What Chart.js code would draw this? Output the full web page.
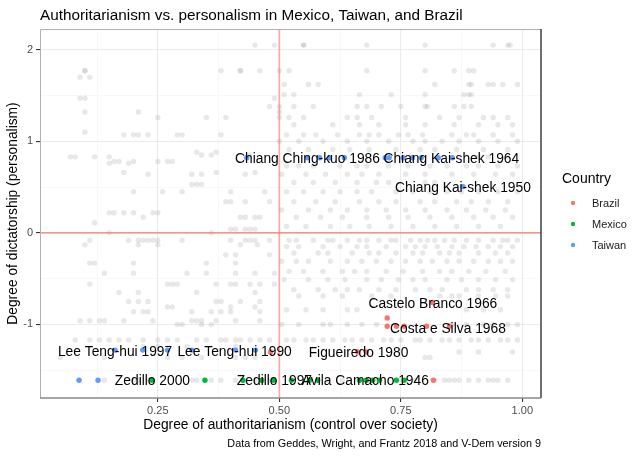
<!DOCTYPE html>
<html lang="en">
<head>
<meta charset="UTF-8">
<title>Authoritarianism vs. personalism</title>
<script src="https://cdn.jsdelivr.net/npm/chart.js@4.4.1/dist/chart.umd.min.js"></script>
<style>
  html, body { margin: 0; padding: 0; background: #fff; }
</style>
</head>
<body>
<canvas id="myChart" width="640" height="457"></canvas>
<script>
// ---- data ----
const countries = ["Brazil", "Mexico", "Taiwan"];

const brazilX = [0.722, 0.722, 0.741, 0.757, 0.803, 0.850, 0.815, 0.661, 0.679, 0.482, 0.817];
const brazilY = [-0.93, -1.02, -1.02, -1.02, -1.02, -1.02, -0.76, -1.30, -1.30, -1.30, -1.61];

const mexicoX = [0.238, 0.347, 0.425, 0.464, 0.488, 0.525, 0.562, 0.579, 0.665, 0.679, 0.692, 0.706, 0.741, 0.757];
const mexicoY = [-1.61, -1.61, -1.61, -1.61, -1.61, -1.61, -1.61, -1.61, -1.61, -1.61, -1.61, -1.61, -1.61, -1.61];

const taiwanX = [0.433, 0.558, 0.583, 0.603, 0.634, 0.718, 0.726, 0.755, 0.774, 0.792, 0.827, 0.856,
                 0.878, 0.162, 0.219, 0.270, 0.320, 0.410, 0.451, 0.088, 0.127];
const taiwanY = [0.82, 0.82, 0.82, 0.82, 0.82, 0.82, 0.82, 0.82, 0.82, 0.82, 0.82, 0.82,
                 0.505, -1.28, -1.28, -1.28, -1.28, -1.28, -1.28, -1.61, -1.61];

// all other dictatorships, grouped by rows of similar personalism score
const greyRowY = [2.05, 1.77, 1.70, 1.62, 1.51, 1.47, 1.38, 1.32, 1.26, 1.18, 1.10, 1.07, 1.00, 0.91, 0.88, 0.85,
  0.83, 0.78, 0.76, 0.73, 0.66, 0.64, 0.55, 0.53, 0.45, 0.34, 0.25, 0.22, 0.17, 0.11, 0.07, 0.04, 0.00,
  -0.08, -0.13, -0.15, -0.22, -0.24, -0.31, -0.33, -0.42, -0.44, -0.51, -0.56, -0.62, -0.65, -0.69, -0.75,
  -0.81, -0.84, -0.86, -0.96, -1.00, -1.17, -1.24, -1.30, -1.36, -1.61];
const greyRowX = [
  [0.45, 0.49, 0.55, 0.55, 0.68, 0.80, 0.94, 0.97, 0.975],
  [0.10, 0.10, 0.38, 0.42, 0.42, 0.46, 0.50, 0.52, 0.68, 0.80, 0.86, 0.89, 0.90],
  [0.09, 0.11],
  [0.51, 0.56, 0.58, 0.82, 0.89, 0.895, 0.93, 0.94, 0.96, 0.99],
  [0.51, 0.53, 0.665, 0.73, 0.80, 0.88, 0.89, 0.895],
  [0.09, 0.10, 0.49],
  [0.48, 0.50, 0.53, 0.57, 0.66, 0.68, 0.71, 0.75, 0.80, 0.805, 0.86, 0.88, 0.895],
  [0.10, 0.21, 0.50],
  [0.25, 0.35, 0.39, 0.50, 0.52, 0.55, 0.64, 0.66, 0.69, 0.76, 0.83, 0.87, 0.92, 0.94, 0.97],
  [0.53, 0.61, 0.665, 0.705, 0.76, 0.80, 0.86, 0.91, 0.95, 0.98],
  [0.10],
  [0.18, 0.20, 0.21, 0.23, 0.29, 0.30, 0.38, 0.515, 0.55, 0.575, 0.62, 0.665, 0.685, 0.705, 0.745, 0.765, 0.795, 0.855, 0.885, 0.90, 0.94, 0.98],
  [0.50, 0.54, 0.59, 0.64, 0.68, 0.725, 0.775, 0.80, 0.835, 0.87, 0.91, 0.95, 0.99],
  [0.52, 0.56, 0.61, 0.645, 0.685, 0.74, 0.79, 0.82, 0.865, 0.92, 0.97],
  [0.33, 0.37],
  [0.34, 0.36, 0.44],
  [0.07, 0.08, 0.12, 0.15, 0.91, 0.93, 0.97],
  [0.16, 0.17, 0.20, 0.25, 0.27, 0.28],
  [0.15, 0.19],
  [0.515, 0.54, 0.57, 0.625, 0.66, 0.68, 0.725, 0.765, 0.81, 0.845, 0.885, 0.91, 0.95, 0.99],
  [0.18, 0.37, 0.45],
  [0.23, 0.32, 0.34, 0.43, 0.505, 0.555, 0.595, 0.64, 0.67, 0.705, 0.76, 0.80, 0.855, 0.90, 0.945, 0.98],
  [0.53, 0.57, 0.615, 0.66, 0.70, 0.725, 0.80, 0.82],
  [0.32, 0.33, 0.34],
  [0.20, 0.26, 0.30, 0.40, 0.47, 0.515, 0.55, 0.59, 0.625, 0.66, 0.69, 0.74, 0.775, 0.81, 0.845, 0.875, 0.91, 0.95, 0.99],
  [0.39, 0.40, 0.43, 0.48, 0.53, 0.575, 0.615, 0.665, 0.705, 0.74, 0.79, 0.82, 0.865, 0.895, 0.93, 0.97],
  [0.505, 0.56, 0.605, 0.64, 0.68, 0.72, 0.76, 0.80, 0.845, 0.885, 0.925, 0.965],
  [0.15, 0.16, 0.18, 0.20, 0.24, 0.25],
  [0.22, 0.42, 0.43, 0.45, 0.46, 0.535, 0.585, 0.63, 0.68, 0.725, 0.765, 0.81, 0.855, 0.90, 0.94, 0.98],
  [0.12],
  [0.515, 0.555, 0.605, 0.645, 0.685, 0.73, 0.775, 0.82, 0.865, 0.91, 0.955],
  [0.40, 0.41, 0.43, 0.44, 0.45],
  [0.15, 0.36],
  [0.11, 0.19, 0.21, 0.22, 0.23, 0.24, 0.25, 0.30, 0.40, 0.43, 0.44, 0.45, 0.48, 0.52, 0.535, 0.57, 0.60, 0.61, 0.64, 0.665, 0.68, 0.705, 0.73, 0.74, 0.77, 0.79, 0.805, 0.82, 0.84, 0.86, 0.885, 0.91, 0.94, 0.96, 0.97, 0.99],
  [0.10, 0.21, 0.25, 0.42, 0.455],
  [0.515, 0.54, 0.59, 0.625, 0.66, 0.68, 0.72, 0.76, 0.78, 0.80, 0.825, 0.855, 0.88, 0.905, 0.93, 0.955, 0.98],
  [0.53, 0.58, 0.60, 0.65, 0.685, 0.705, 0.74, 0.775, 0.795, 0.83, 0.85, 0.87, 0.91, 0.945, 0.97],
  [0.39, 0.41, 0.48],
  [0.505, 0.535, 0.56, 0.605, 0.64, 0.67, 0.70, 0.73, 0.76, 0.79, 0.815, 0.845, 0.87, 0.90, 0.93, 0.955, 0.98],
  [0.11, 0.12, 0.20, 0.35, 0.41],
  [0.52, 0.55, 0.59, 0.63, 0.655, 0.68, 0.72, 0.755, 0.795, 0.83, 0.855, 0.89, 0.925, 0.965],
  [0.14, 0.20, 0.31, 0.35, 0.41, 0.45, 0.49],
  [0.51, 0.56, 0.60, 0.635, 0.68, 0.71, 0.745, 0.775, 0.80, 0.845, 0.875, 0.91, 0.945, 0.98],
  [0.11, 0.27, 0.28, 0.29, 0.37, 0.40, 0.41, 0.44, 0.46, 0.49],
  [0.53, 0.58, 0.615, 0.64, 0.665, 0.705, 0.74, 0.78, 0.81, 0.835, 0.885, 0.91, 0.94, 0.97],
  [0.17, 0.21, 0.33, 0.45],
  [0.54, 0.59, 0.63, 0.69, 0.73, 0.83, 0.855, 0.87, 0.91, 0.945, 0.97],
  [0.19, 0.21, 0.23, 0.37, 0.38, 0.42, 0.46],
  [0.27, 0.28, 0.40, 0.45],
  [0.515, 0.555, 0.59, 0.64, 0.66, 0.885, 0.92, 0.955],
  [0.20, 0.22, 0.23, 0.32, 0.36, 0.38, 0.40, 0.46],
  [0.09, 0.11, 0.13, 0.14, 0.18, 0.24, 0.32, 0.33, 0.34, 0.37, 0.41, 0.46],
  [0.29, 0.30, 0.34, 0.36, 0.505, 0.54, 0.59, 0.605, 0.64, 0.67, 0.70, 0.855, 0.885, 0.92, 0.94, 0.97, 0.99],
  [0.08, 0.11, 0.13, 0.15, 0.17, 0.19, 0.22, 0.25, 0.27, 0.29, 0.33, 0.35, 0.38, 0.39, 0.41, 0.42, 0.44, 0.46, 0.48,
   0.515, 0.53, 0.555, 0.57, 0.59, 0.61, 0.635, 0.65, 0.67, 0.69, 0.715, 0.73, 0.75, 0.78, 0.79, 0.81, 0.835, 0.85, 0.87, 0.895, 0.91, 0.93, 0.955, 0.97, 0.99],
  [0.22, 0.25, 0.31, 0.41],
  [0.87, 0.91, 0.98],
  [0.05, 0.14, 0.27, 0.30, 0.34, 0.41, 0.43, 0.45, 0.80, 0.81],
  [0.14, 0.20, 0.21, 0.23, 0.32, 0.33, 0.36, 0.38, 0.41, 0.43, 0.45, 0.48, 0.60, 0.63, 0.70, 0.78, 0.82, 0.84, 0.85, 0.86, 0.87, 0.89, 0.91, 0.93, 0.94, 0.95, 0.97]
];

const labelText = ["Chiang Ching-kuo 1986", "Chiang Kai-shek 1964", "Chiang Kai-shek 1950",
  "Castelo Branco 1966", "Costa e Silva 1968", "Figueiredo 1980",
  "Lee Teng-hui 1997", "Lee Teng-hui 1990", "Zedillo 2000", "Zedillo 1997", "Avila Camacho 1946"];
const labelX = [0.558, 0.854, 0.878, 0.816, 0.847, 0.663, 0.162, 0.408, 0.239, 0.490, 0.677];
const labelY = [0.82, 0.82, 0.505, -0.77, -1.035, -1.30, -1.285, -1.285, -1.61, -1.61, -1.61];

const xMajor = [0.25, 0.50, 0.75, 1.00];
const xMinor = [0.125, 0.375, 0.625, 0.875];
const yMajor = [-1, 0, 1, 2];
const yMinor = [-1.5, -0.5, 0.5, 1.5];

const titleText = "Authoritarianism vs. personalism in Mexico, Taiwan, and Brazil";
const captionText = "Data from Geddes, Wright, and Frantz 2018 and V-Dem version 9";

// ---- styles ----
const countryColors = ["#F8766D", "#00BA38", "#619CFF"];
const FONT = "'Liberation Sans', Arial, sans-serif";

function pts(xs, ys) { return xs.map((x, i) => ({ x: x, y: ys[i] })); }

const greyPoints = [];
greyRowY.forEach((y, r) => greyRowX[r].forEach(x => greyPoints.push({ x: x, y: y })));

const isMajorX = v => xMajor.some(m => Math.abs(m - v) < 1e-6);
const isMajorY = v => yMajor.some(m => Math.abs(m - v) < 1e-6);

const decor = {
  id: "decor",
  beforeDraw(chart) {
    const c = chart.ctx;
    c.save();
    c.fillStyle = "#fff";
    c.fillRect(0, 0, chart.width, chart.height);
    c.restore();
  },
  afterDatasetDraw(chart, args) {
    // reference lines go on top of the grey cloud, under the country points
    if (chart.data.datasets[args.index].label !== "Other") return;
    const c = chart.ctx, a = chart.chartArea;
    const xs = chart.scales.x, ys = chart.scales.y;
    c.save();
    c.strokeStyle = "rgba(248,118,109,0.55)";
    c.lineWidth = 1.8;
    const px = xs.getPixelForValue(0.5);
    c.beginPath(); c.moveTo(px, a.top); c.lineTo(px, a.bottom); c.stroke();
    c.strokeStyle = "#F8766D";
    c.lineWidth = 1.1;
    const py = ys.getPixelForValue(0);
    c.beginPath(); c.moveTo(a.left, py); c.lineTo(a.right, py); c.stroke();
    c.restore();
  },
  afterDatasetsDraw(chart) {
    const c = chart.ctx, a = chart.chartArea;
    const xs = chart.scales.x, ys = chart.scales.y;
    c.save();
    // text labels
    c.font = "13.8px " + FONT;
    c.fillStyle = "#000";
    c.textAlign = "center";
    c.textBaseline = "alphabetic";
    labelText.forEach((t, i) => {
      c.fillText(t, xs.getPixelForValue(labelX[i]), ys.getPixelForValue(labelY[i]) + 5);
    });
    // panel border
    c.lineWidth = 1;
    c.strokeStyle = "#b0b0b0";
    c.beginPath();
    c.moveTo(a.left + 0.5, a.bottom); c.lineTo(a.left + 0.5, a.top + 0.5); c.lineTo(a.right, a.top + 0.5);
    c.stroke();
    c.strokeStyle = "#333";
    c.lineWidth = 1.4;
    c.beginPath();
    c.moveTo(a.right, a.top); c.lineTo(a.right, a.bottom); c.stroke();
    c.strokeStyle = "#888";
    c.beginPath();
    c.moveTo(a.left, a.bottom); c.lineTo(a.right, a.bottom); c.stroke();
    c.restore();
  },
  afterDraw(chart) {
    const c = chart.ctx, a = chart.chartArea;
    c.save();
    c.fillStyle = "#000";
    c.textBaseline = "alphabetic";
    c.textAlign = "left";
    c.font = "15.3px " + FONT;
    c.fillText(titleText, a.left, 20);
    c.font = "10.8px " + FONT;
    c.textAlign = "right";
    c.fillText(captionText, a.right, 447);
    // legend
    c.textAlign = "left";
    c.font = "14px " + FONT;
    c.fillText("Country", 562, 183);
    c.font = "11px " + FONT;
    countries.forEach((name, i) => {
      const cy = 203 + i * 21;
      c.fillStyle = countryColors[i];
      c.beginPath(); c.arc(573, cy, 2.2, 0, Math.PI * 2); c.fill();
      c.fillStyle = "#1a1a1a";
      c.fillText(name, 592, cy + 4);
    });
    c.restore();
  }
};

const stx = document.getElementById("myChart");
new Chart(stx, {
  type: "scatter",
  data: {
    datasets: [
      { label: "Taiwan", data: pts(taiwanX, taiwanY), backgroundColor: countryColors[2], order: 1 },
      { label: "Mexico", data: pts(mexicoX, mexicoY), backgroundColor: countryColors[1], order: 2 },
      { label: "Brazil", data: pts(brazilX, brazilY), backgroundColor: countryColors[0], order: 3 },
      { label: "Other", data: greyPoints, backgroundColor: "rgba(128,128,128,0.18)", order: 10 }
    ]
  },
  options: {
    responsive: false,
    animation: false,
    events: [],
    elements: { point: { radius: 2.7, borderWidth: 0, hoverRadius: 2.7 } },
    layout: { padding: { left: 0, top: 29, right: 99, bottom: 24 } },
    plugins: { legend: { display: false }, tooltip: { enabled: false }, title: { display: false } },
    scales: {
      x: {
        type: "linear",
        min: 0.0076,
        max: 1.0385,
        afterBuildTicks: s => { s.ticks = xMinor.concat(xMajor).sort((p, q) => p - q).map(v => ({ value: v })); },
        afterFit: s => { s.height = 35; },
        border: { display: false },
        grid: {
          color: c => isMajorX(c.tick.value) ? "#ebebeb" : "#f5f5f5",
          lineWidth: c => isMajorX(c.tick.value) ? 1.1 : 0.7,
          tickColor: c => isMajorX(c.tick.value) ? "#333" : "rgba(0,0,0,0)",
          tickLength: 4,
          drawTicks: true
        },
        ticks: {
          padding: 2,
          color: "#4d4d4d",
          font: { family: FONT, size: 11 },
          maxRotation: 0,
          autoSkip: false,
          callback: v => isMajorX(v) ? v.toFixed(2) : ""
        },
        title: {
          display: true,
          text: "Degree of authoritarianism (control over society)",
          color: "#000",
          font: { family: FONT, size: 13.8 },
          padding: { top: 0, bottom: 0 }
        }
      },
      y: {
        type: "linear",
        min: -1.803,
        max: 2.226,
        afterBuildTicks: s => { s.ticks = yMinor.concat(yMajor).sort((p, q) => p - q).map(v => ({ value: v })); },
        afterFit: s => { s.width = 40; },
        border: { display: false },
        grid: {
          color: c => isMajorY(c.tick.value) ? "#ebebeb" : "#f5f5f5",
          lineWidth: c => isMajorY(c.tick.value) ? 1.1 : 0.7,
          tickColor: c => isMajorY(c.tick.value) ? "#333" : "rgba(0,0,0,0)",
          tickLength: 4,
          drawTicks: true
        },
        ticks: {
          padding: 3,
          color: "#4d4d4d",
          font: { family: FONT, size: 11 },
          autoSkip: false,
          callback: v => isMajorY(v) ? String(v) : ""
        },
        title: {
          display: true,
          text: "Degree of dictatorship (personalism)",
          color: "#000",
          font: { family: FONT, size: 13.8 },
          padding: { top: 5, bottom: 0 }
        }
      }
    }
  },
  plugins: [decor]
});
</script>
</body>
</html>
